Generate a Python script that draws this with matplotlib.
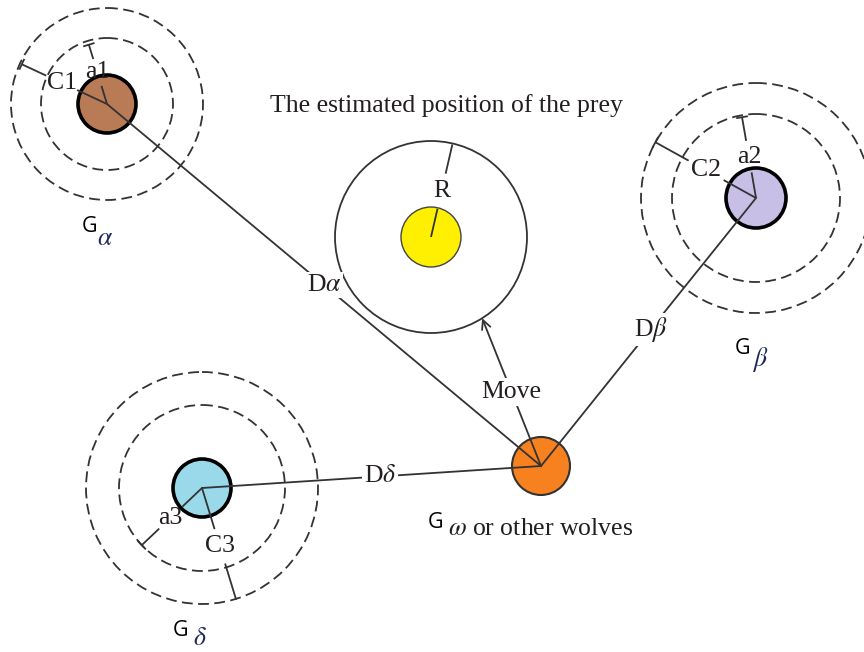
'''
Schema du loup gris (GWO) : position estimee de la proie
'''

# --------------------------------------------------------------------------------------------
# ** IMPORTS **

import numpy as np
import matplotlib
matplotlib.use('Agg')
import matplotlib.pyplot as plt
from matplotlib.patches import Circle

# --------------------------------------------------------------------------------------------
# ** DONNEES ** (pixels de l'image, y vers le bas)

wolf_names = ['alpha', 'beta', 'delta']
wolf_x = [107, 756, 202]
wolf_y = [104, 198, 488]
wolf_r = [29, 30, 29]
ring_inner = [66, 84, 83]
ring_outer = [96, 115, 116]
wolf_colors = ['#b97a56', '#c8bfe7', '#99d9ea']

# rayons "a" et "C" : angle (deg), longueur, position du label, demi-trou, barre au bout
a_labels = ['a1', 'a2', 'a3']
a_angle = [-107, -99.8, 136.5]
a_len = [62, 82, 83]
a_lab = [33, 42, 43]
a_gap = [14, 16, 16]
c_labels = ['C1', 'C2', 'C3']
c_angle = [-155, -151, 73]
c_len = [94, 115, 117]
c_lab = [50, 57, 61]
c_gap = [17, 20, 18]
c_cap = [True, True, False]

# distances vers omega
dist_labels = [r'D$\alpha$', r'D$\beta$', r'D$\delta$']
dist_t = [0.50, 0.49, 0.525]

# noms des loups
g_sub = [r'$\alpha$', r'$\beta$', r'$\delta$']
g_pos = [(82, 227), (735, 349), (173, 631)]
sub_pos = [(105, 238), (760, 360), (200, 638)]

omega_x, omega_y, omega_r = 541, 466, 29
omega_color = '#f7811f'

prey_x, prey_y = 431, 237
prey_r_out, prey_r_in = 96, 30
prey_color = '#ffef00'
r_angle, r_len, r_lab, r_gap = -77, 95, 47, 18
move_angle = 57.8
move_t = 0.5

title = 'The estimated position of the prey'

# --------------------------------------------------------------------------------------------
# ** STYLE **

plt.rcParams['mathtext.fontset'] = 'stix'
SERIF = 'Liberation Serif'
SANS = 'Open Sans'
TXT = '#231f20'
LN = '#333333'
FS = 18.5

# --------------------------------------------------------------------------------------------
# ** FONCTIONS **

def pt(cx, cy, ang, d):
    a = np.deg2rad(ang)
    return cx + d * np.cos(a), cy + d * np.sin(a)


def ray(ax, cx, cy, ang, length, lab_d, gap, label, cap=True):
    '''Rayon coupe par un label, avec petite barre perpendiculaire au bout.'''
    x0, y0 = pt(cx, cy, ang, 0)
    x1, y1 = pt(cx, cy, ang, lab_d - gap)
    x2, y2 = pt(cx, cy, ang, lab_d + gap)
    x3, y3 = pt(cx, cy, ang, length)
    ax.plot([x0, x1], [y0, y1], color=LN, lw=1.3, zorder=3, solid_capstyle='butt')
    ax.plot([x2, x3], [y2, y3], color=LN, lw=1.3, zorder=3, solid_capstyle='butt')
    if cap:
        px, py = pt(0, 0, ang + 90, 5)
        ax.plot([x3 - px, x3 + px], [y3 - py, y3 + py], color=LN, lw=1.3, zorder=3)
    lx, ly = pt(cx, cy, ang, lab_d)
    ax.text(lx, ly, label, fontsize=FS, family=SERIF, color=TXT,
            ha='center', va='center', zorder=4)


# --------------------------------------------------------------------------------------------
# ** MAIN **

fig = plt.figure(figsize=(8.64, 6.52), dpi=100)
ax = fig.add_axes([0, 0, 1, 1])
ax.set_xlim(0, 864)
ax.set_ylim(652, 0)
ax.set_aspect('equal')
ax.axis('off')

for i in range(len(wolf_names)):
    cx, cy = wolf_x[i], wolf_y[i]
    for rr in (ring_inner[i], ring_outer[i]):
        ax.add_patch(Circle((cx, cy), rr, fill=False, ec=LN, lw=1.3,
                            ls=(0, (6, 3)), zorder=1))
    ax.add_patch(Circle((cx, cy), wolf_r[i], fc=wolf_colors[i], ec='black', lw=2.6, zorder=2))

    ray(ax, cx, cy, a_angle[i], a_len[i], a_lab[i], a_gap[i], a_labels[i])
    ray(ax, cx, cy, c_angle[i], c_len[i], c_lab[i], c_gap[i], c_labels[i], cap=c_cap[i])

    # ligne vers omega
    ax.plot([cx, omega_x], [cy, omega_y], color=LN, lw=1.3, zorder=3)
    t = dist_t[i]
    ax.text(cx + t * (omega_x - cx), cy + t * (omega_y - cy), dist_labels[i],
            fontsize=FS, family=SERIF, color=TXT, ha='center', va='center', zorder=4,
            bbox=dict(fc='white', ec='none', pad=1.5))

    gx, gy = g_pos[i]
    ax.text(gx, gy, 'G', fontsize=15.5, family=SANS, color='black', ha='left', va='center')
    sx, sy = sub_pos[i]
    ax.text(sx, sy, g_sub[i], fontsize=FS, color='#1f2a5a', ha='center', va='center')

# proie
ax.add_patch(Circle((prey_x, prey_y), prey_r_out, fill=False, ec=LN, lw=1.3, zorder=1))
ax.add_patch(Circle((prey_x, prey_y), prey_r_in, fc=prey_color, ec='#444444', lw=1.0, zorder=2))
ray(ax, prey_x, prey_y, r_angle, r_len, r_lab, r_gap, 'R', cap=False)
ax.text(446.5, 112, title, fontsize=FS, family=SERIF, color=TXT, ha='center', va='baseline')

# omega
ax.add_patch(Circle((omega_x, omega_y), omega_r, fc=omega_color, ec=LN, lw=1.5, zorder=2))
tip = pt(prey_x, prey_y, move_angle, prey_r_out)
ax.annotate('', xy=tip, xytext=(omega_x, omega_y), zorder=3,
            arrowprops=dict(arrowstyle='->', color=LN, lw=1.3, shrinkA=0, shrinkB=0,
                            mutation_scale=16))
mx = omega_x + move_t * (tip[0] - omega_x)
my = omega_y + move_t * (tip[1] - omega_y)
ax.text(mx, my, 'Move', fontsize=FS, family=SERIF, color=TXT, ha='center', va='center',
        zorder=4, bbox=dict(fc='white', ec='none', pad=2))

ax.text(428, 522, 'G', fontsize=15.5, family=SANS, color='black', ha='left', va='center')
ax.text(448, 535, r'$\omega$ or other wolves', fontsize=FS, family=SERIF, color=TXT,
        ha='left', va='baseline')

fig.savefig('out.png', dpi=100, facecolor='white')
